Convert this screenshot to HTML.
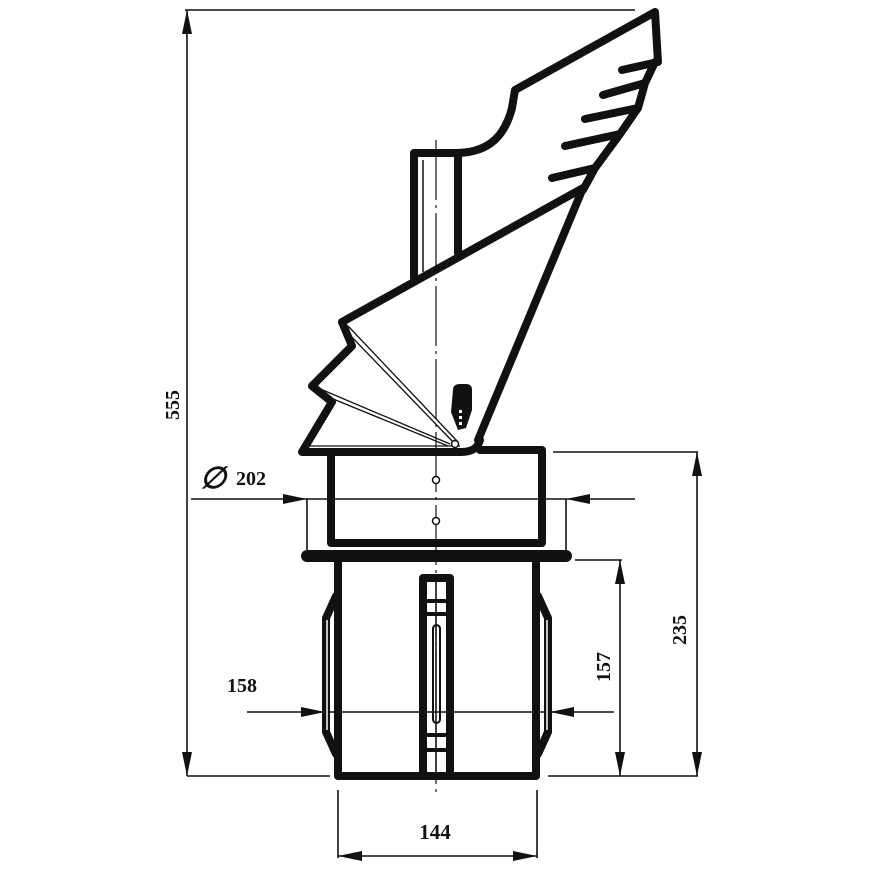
<!DOCTYPE html>
<html><head><meta charset="utf-8"><style>
html,body{margin:0;padding:0;background:#fff;width:870px;height:870px;overflow:hidden}
svg{display:block}
text{font-family:"Liberation Serif",serif;font-weight:bold;fill:#111}
</style></head><body>
<svg width="870" height="870" viewBox="0 0 870 870" xmlns="http://www.w3.org/2000/svg">
<defs>
<marker id="a" viewBox="0 0 24 10" refX="24" refY="5" markerWidth="24" markerHeight="10" markerUnits="userSpaceOnUse" orient="auto-start-reverse"><path d="M0,0 L24,5 L0,10 Z" fill="#111"/></marker>
</defs>
<g stroke="#111" stroke-width="1.6" fill="none">
<line x1="185" y1="10" x2="635" y2="10"/>
<line x1="187" y1="10" x2="187" y2="776" marker-start="url(#a)" marker-end="url(#a)"/>
<line x1="187" y1="776" x2="330" y2="776"/>
<line x1="191" y1="499" x2="307" y2="499" marker-end="url(#a)"/>
<line x1="635" y1="499" x2="566" y2="499" marker-end="url(#a)"/>
<line x1="307" y1="499" x2="307" y2="550"/>
<line x1="566" y1="499" x2="566" y2="550"/>
<line x1="307" y1="499" x2="566" y2="499"/>
<line x1="247" y1="712" x2="325" y2="712" marker-end="url(#a)"/>
<line x1="614" y1="712" x2="550" y2="712" marker-end="url(#a)"/>
<line x1="325" y1="712" x2="550" y2="712"/>
<line x1="553" y1="452" x2="698" y2="452"/>
<line x1="548" y1="776" x2="698" y2="776"/>
<line x1="697" y1="452" x2="697" y2="776" marker-start="url(#a)" marker-end="url(#a)"/>
<line x1="575" y1="560" x2="622" y2="560"/>
<line x1="620" y1="560" x2="620" y2="776" marker-start="url(#a)" marker-end="url(#a)"/>
<line x1="338" y1="790" x2="338" y2="858"/>
<line x1="537" y1="790" x2="537" y2="858"/>
<line x1="338" y1="856" x2="537" y2="856" marker-start="url(#a)" marker-end="url(#a)"/>
<line x1="436" y1="140" x2="436" y2="795" stroke-width="1.2" stroke-dasharray="60,5,3,5"/>
</g>
<g stroke="#111" stroke-width="8" fill="none" stroke-linejoin="round" stroke-linecap="round">
<path d="M414,278 L414,153 L458,153 C490,152 505,135 512,108 L515,90 L655,12 L658,62 L622,70"/>
<line x1="458" y1="157" x2="458" y2="253"/>
<path d="M655,62 L645,83 L603,95 M645,83 L638,108 L585,119 M638,108 L620,134 L565,146 M620,134 L595,168 L552,178 M595,168 L583,190"/>
<path d="M342,322 L583,188 L478,440"/>
<path d="M342,322 L352,346 L312,386 L332,402 L302,452 L460,452 C474,452 478,447 480,440"/>
<path d="M480,450 L542,450 L542,543 L331,543 L331,455"/>
<line x1="307" y1="556" x2="566" y2="556" stroke-width="12"/>
<path d="M338,563 L338,776 L536,776 L536,563"/>
<path d="M336,596 L326,618 L326,732 L336,754"/>
<path d="M538,596 L548,618 L548,732 L538,754"/>
<rect x="423" y="578" width="27" height="198"/>
<line x1="423" y1="601" x2="450" y2="601" stroke-width="4"/>
<line x1="423" y1="614" x2="450" y2="614" stroke-width="4"/>
<line x1="423" y1="735" x2="450" y2="735" stroke-width="4"/>
<line x1="423" y1="750" x2="450" y2="750" stroke-width="4"/>
</g>
<g stroke="#111" fill="none">
<line x1="436" y1="578" x2="436" y2="776" stroke-width="1.5"/>
<rect x="433" y="625" width="7" height="98" rx="3.5" stroke-width="2"/>
<line x1="327" y1="620" x2="327" y2="730" stroke="#fff" stroke-width="1.5"/>
<line x1="547" y1="620" x2="547" y2="730" stroke="#fff" stroke-width="1.5"/>
<path d="M348,326 L458,442 M345,330 L455,444" stroke-width="1.3"/>
<path d="M318,388 L450,444 M316,392 L448,446" stroke-width="1.3"/>
<line x1="310" y1="446" x2="460" y2="446" stroke-width="1.3"/>
<circle cx="455" cy="444" r="3.5" stroke-width="1.5" fill="#fff"/>
<circle cx="436" cy="480" r="3.5" stroke-width="1.5" fill="#fff"/>
<circle cx="436" cy="521" r="3.5" stroke-width="1.5" fill="#fff"/>
</g>
<line x1="423" y1="160" x2="423" y2="272" stroke="#111" stroke-width="1.5"/>
<path d="M453,390 Q453,384 460,384 L466,384 Q472,384 472,390 L472,410 L466,428 L458,430 L451,412 Z" fill="#111"/>
<rect x="459" y="410" width="3" height="3" fill="#fff"/>
<rect x="459" y="416" width="3" height="3" fill="#fff"/>
<rect x="459" y="422" width="3" height="3" fill="#fff"/>
<text x="200" y="488" font-size="30" font-weight="normal" font-style="italic">∅</text>
<text x="236" y="485" font-size="20">202</text>
<text x="227" y="692" font-size="20">158</text>
<text x="435" y="839" font-size="21" text-anchor="middle">144</text>
<text transform="translate(179,405) rotate(-90)" font-size="20" text-anchor="middle">555</text>
<text transform="translate(610,667) rotate(-90)" font-size="20" text-anchor="middle">157</text>
<text transform="translate(686,630) rotate(-90)" font-size="20" text-anchor="middle">235</text>
</svg>
</body></html>
